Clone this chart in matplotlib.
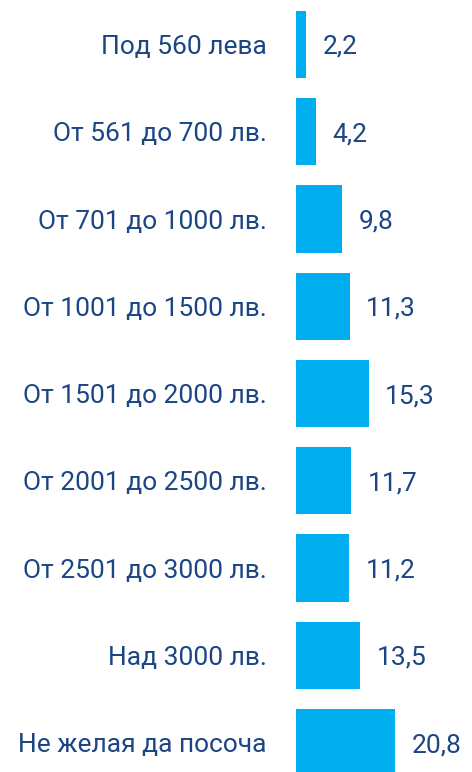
import matplotlib
matplotlib.use('Agg')
import matplotlib.pyplot as plt

categories = [
    'Под 560 лева',
    'От 561 до 700 лв.',
    'От 701 до 1000 лв.',
    'От 1001 до 1500 лв.',
    'От 1501 до 2000 лв.',
    'От 2001 до 2500 лв.',
    'От 2501 до 3000 лв.',
    'Над 3000 лв.',
    'Не желая да посоча',
]
values = [2.2, 4.2, 9.8, 11.3, 15.3, 11.7, 11.2, 13.5, 20.8]

bar_color = '#00AEEF'
text_color = '#1B4584'

plt.rcParams['font.family'] = ['Roboto', 'DejaVu Sans']

fig = plt.figure(figsize=(4.72, 7.72), dpi=100)
ax = fig.add_axes([296 / 472, 0, 176 / 472, 1])

y = list(range(len(values)))
ax.barh(y, values, height=0.77, color=bar_color)

for yi, v in zip(y, values):
    ax.annotate(f'{v:.1f}'.replace('.', ','), (v, yi), xytext=(12, 0),
                textcoords='offset points', va='center_baseline', ha='left',
                fontsize=19, color=text_color)

ax.set_xlim(0, 176 / 4.74)
ax.set_ylim(8.338, -0.51)
ax.set_yticks(y)
ax.set_yticklabels(categories, fontsize=19, color=text_color,
                   va='center_baseline')
ax.tick_params(axis='y', length=0, pad=21)
ax.set_xticks([])
for s in ax.spines.values():
    s.set_visible(False)

fig.savefig('out.png', dpi=100)
